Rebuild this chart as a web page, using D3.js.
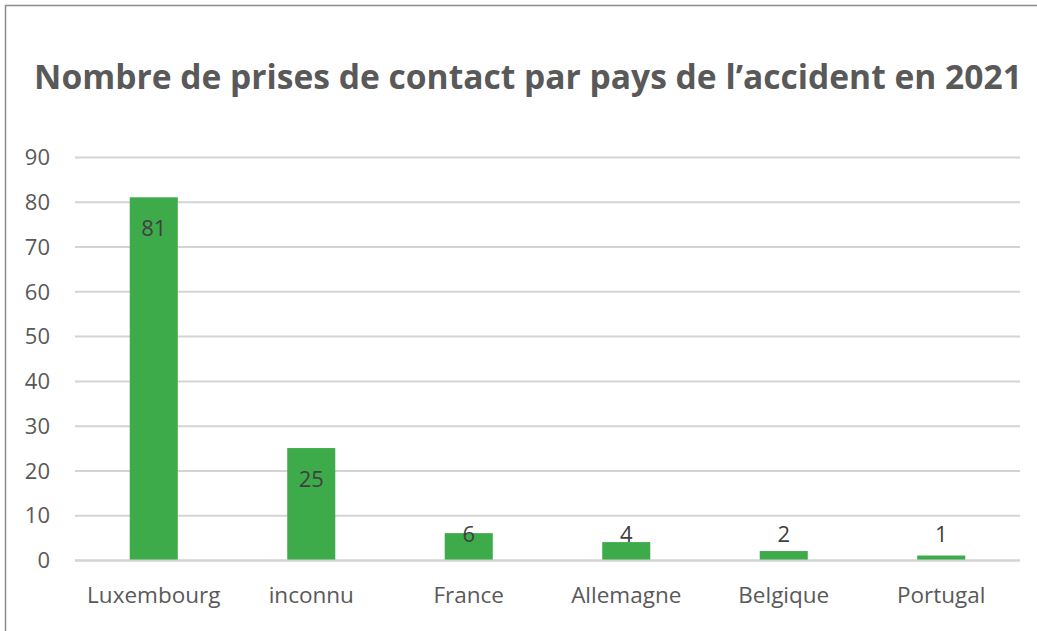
<!DOCTYPE html>
<html>
<head>
<meta charset="utf-8">
<script src="https://cdn.jsdelivr.net/npm/d3@7"></script>
<style>
  html, body { margin: 0; padding: 0; background: #fff; }
  svg { display: block; }
  text { font-family: "Open Sans", sans-serif; }
</style>
</head>
<body>
<svg id="chart" width="1037" height="631"></svg>
<script>
'use strict';

// data
const TITLE = 'Nombre de prises de contact par pays de l’accident en 2021';
const countries = ['Luxembourg', 'inconnu', 'France', 'Allemagne', 'Belgique', 'Portugal'];
const contacts = [81, 25, 6, 4, 2, 1];
const yTicks = [0, 10, 20, 30, 40, 50, 60, 70, 80, 90];

const WIDTH = 1037;
const HEIGHT = 631;
const margin = {top: 157, right: 17, bottom: 71, left: 75};

const BAR_COLOR = '#3dab49';
const GRID_COLOR = '#d4d4d4';
const TEXT_COLOR = '#595959';
const LABEL_COLOR = '#404040';

const svg = d3.select('#chart');

const x = d3.scaleBand()
  .domain(countries)
  .range([margin.left, WIDTH - margin.right])
  .paddingInner(0.695)
  .paddingOuter(0.3475);

const y = d3.scaleLinear()
  .domain([0, 90])
  .range([HEIGHT - margin.bottom, margin.top]);

// outer frame (only top and left edges show in the picture)
svg.append('rect')
  .attr('x', 5.5)
  .attr('y', 5.5)
  .attr('width', WIDTH + 10)
  .attr('height', HEIGHT + 10)
  .attr('fill', 'none')
  .attr('stroke', '#8c8c8c')
  .attr('stroke-width', 1.5);

svg.append('text')
  .attr('x', 528)
  .attr('y', 89)
  .attr('text-anchor', 'middle')
  .attr('fill', TEXT_COLOR)
  .style('font-size', '33.6px')
  .style('font-weight', 700)
  .text(TITLE);

// gridlines + y labels
const yAxis = svg.append('g')
  .attr('transform', `translate(${margin.left},0)`)
  .call(d3.axisLeft(y).tickValues(yTicks).tickSize(-(WIDTH - margin.left - margin.right)).tickPadding(25));

yAxis.select('.domain').remove();
yAxis.selectAll('.tick line')
  .attr('stroke', GRID_COLOR)
  .attr('stroke-width', 2);
yAxis.selectAll('.tick text')
  .attr('fill', TEXT_COLOR)
  .attr('dy', '0.35em')
  .style('font-size', '22px')
  .style('font-family', '"Open Sans", sans-serif');

// bars
svg.append('g')
  .selectAll('rect')
  .data(contacts)
  .join('rect')
  .attr('x', (d, i) => x(countries[i]))
  .attr('y', d => y(d))
  .attr('width', x.bandwidth())
  .attr('height', d => y(0) - y(d))
  .attr('fill', BAR_COLOR);

// baseline drawn again over the bottom of the bars
svg.append('line')
  .attr('x1', margin.left)
  .attr('x2', WIDTH - margin.right)
  .attr('y1', y(0) + 0.5)
  .attr('y2', y(0) + 0.5)
  .attr('stroke', GRID_COLOR)
  .attr('stroke-width', 2);

// value labels: inside the top of the bar, or pushed up when the bar is too short
svg.append('g')
  .selectAll('text')
  .data(contacts)
  .join('text')
  .attr('x', (d, i) => x(countries[i]) + x.bandwidth() / 2)
  .attr('y', d => Math.min(y(d) + 39, y(0) - 18))
  .attr('text-anchor', 'middle')
  .attr('fill', LABEL_COLOR)
  .style('font-size', '22px')
  .text(d => d);

// x axis labels
const xAxis = svg.append('g')
  .attr('transform', `translate(0,${y(0)})`)
  .call(d3.axisBottom(x).tickSize(0).tickPadding(27));

xAxis.select('.domain').remove();
xAxis.selectAll('.tick text')
  .attr('fill', TEXT_COLOR)
  .style('font-size', '22.5px')
  .style('font-family', '"Open Sans", sans-serif');
</script>
</body>
</html>
